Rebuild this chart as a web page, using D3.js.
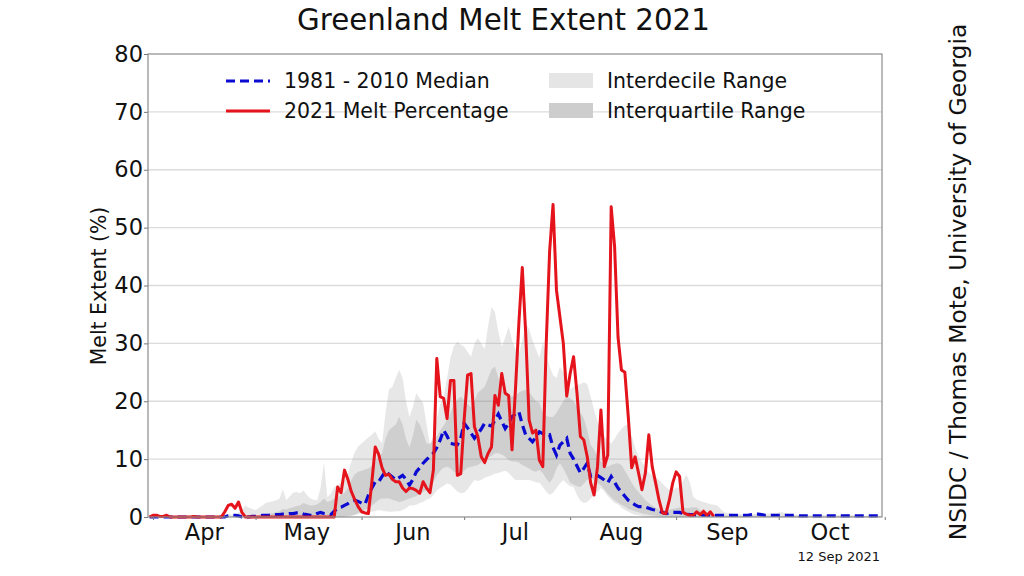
<!DOCTYPE html>
<html>
<head>
<meta charset="utf-8">
<script src="https://cdnjs.cloudflare.com/ajax/libs/d3/7.8.5/d3.min.js"></script>
<style>
  html, body { margin: 0; padding: 0; background: #fff; }
  svg { display: block; }
  text { font-family: "DejaVu Sans", sans-serif; fill: #111; }
</style>
</head>
<body>
<div id="chart"></div>
<script>
// every series is daily and starts on 31 Mar 2021, ten values to a row
var firstDay = Date.UTC(2021, 2, 31);

var melt2021 = [
  0,.3,.3,.1,.1,.3,0,0,0,0,
  0,0,0,.1,0,0,0,0,0,0,
  0,0,.9,2,2.2,1.5,2.6,.8,0,0,
  0,0,0,0,0,0,0,0,0,0,
  0,0,0,0,0,0,0,0,0,0,
  0,0,0,0,0,5.2,4.2,8.1,6.5,4.4,
  3,1.8,.9,.7,.6,6,12.1,10.8,8.5,7.2,
  7.4,6.5,6.1,6.1,5,4.4,5,4.9,4.6,4.1,
  6.1,5,4.2,8.1,27.4,20.8,20.5,17,23.6,23.6,
  7.2,7.5,16.8,24.5,24.8,15.6,13.9,10.4,9.4,11,
  12.1,21,19.3,24.8,21.4,21,11.6,22,33.5,43.1,
  31.7,16.8,14.5,15,9.8,8.7,30,46,54,39.2,
  34.6,30,20.9,24.8,27.7,21.4,13.9,13.3,10.4,5.9,
  3.8,8.7,18.5,8.7,10.7,53.6,46.7,31.1,25.4,25,
  17.3,8.5,10.4,7.6,4.7,7.6,14.2,8.7,5.9,2.9,
  .7,.6,2.9,5.9,7.8,7,.8,.5,.3,.3,
  .9,.4,1,.3,.9,.1
];

var median = [
  0,0,0,0,0,0,0,0,0,0,
  0,0,0,0,0,0,0,0,0,0,
  0,0,0,.2,.3,.3,.2,0,0,0,
  .1,.1,.2,.3,.3,.3,.4,.4,.4,.5,
  .5,.6,.6,.7,.7,.5,.4,.3,.3,.6,
  .8,.6,.5,.4,1,1.5,1.7,2,2.3,2.7,
  2.9,2.7,2.4,2.2,3.8,5,6.1,6.1,7,7.9,
  7.4,6.9,6.4,6.8,7.2,6.5,5.5,6.5,7.8,8.5,
  9.3,9.9,10.5,11,12,13.3,15,14,12.7,12.6,
  12.5,13.6,16.2,15.4,14.5,13.6,14.4,15.2,16.2,15.9,
  15.7,16.7,17.8,16.5,15.3,16.2,17.3,17.8,18.2,16,
  14.2,13.6,13,13.8,14.7,14.4,14,14.2,12,10.7,
  12.4,13,13.6,11,10,8.8,7.6,8.4,9.3,7,
  7.1,7.2,6.8,6.4,5.9,7,6,5,4.3,3.6,
  2.9,2.5,2.1,1.8,1.8,1.7,1.5,1.3,1.2,1,
  .8,.6,.7,.8,.8,.8,.6,.5,.4,.4,
  .3,.3,.3,.3,.3,.3,.3,.3,.3,.3,
  .3,.3,.3,.3,.3,.3,.4,.5,.5,.4,
  .3,.3,.3,.3,.3,.3,.3,.3,.3,.3,
  .2,.2,.2,.2,.2,.2,.2,.2,.2,.2,
  .2,.2,.2,.2,.2,.2,.2,.2,.2,.2,
  .2,.2,.2,.2,.2
];

var decileHigh = [
  0,0,0,0,0,0,0,0,0,0,
  0,0,0,0,0,0,0,0,0,0,
  .2,.4,.6,.5,.4,.5,.8,1.2,2,1.6,
  1.4,1.2,1.6,2,2.4,2.6,2.7,2.9,3.2,4.8,
  2.9,3.6,4.2,4.3,4.1,4.6,3.8,3.2,3,2.9,
  5,9.4,3.4,4,5.2,5.5,5.9,6.3,7.5,9.5,
  11.2,12.2,12.7,13.2,13.8,14.2,14.8,13.5,12.7,18,
  22,22.5,24,25.4,24,20,17.3,19,21.4,20.5,
  19.7,16,12.5,14,17,19.5,20.7,24,27.5,29.5,
  30.3,29.8,29.4,28.5,27.7,30,30.9,30,29,33,
  36.3,35.4,32,29.4,31,32.9,30.5,29,28.3,30.5,
  33.5,32.5,30.5,29,27.5,30.3,28,26,24.5,24,
  26,25,23,22,22.5,22.8,23,23.3,23,20.8,
  18.5,16.5,15,14,13.2,12.7,13.5,14.5,15.2,15.8,
  16,14,12,10.4,9.5,8.5,7.6,7.2,6.8,6.4,
  5.8,5.2,4.7,4.8,5,5.2,6.2,7.3,6,3.5,
  3,2.8,2.6,2.4,2.2,2.1,2,1.4,.8,.7,
  .6,.5,.5,.5,.4,.4,.5,.5,.5,.4,
  .5,.6,.7,.6,.8,.8,.7,.5,.4,.4,
  .3,.3,.3,.3,.3,.3,.3,.3,.3,.3,
  .3,.3,.3,.3,.6,.4,.3,.3,.2,.2,
  .2,.2,.2,.2,.2
];

var decileLow = [
  0,0,0,0,0,0,0,0,0,0,
  0,0,0,0,0,0,0,0,0,0,
  0,0,0,0,0,0,0,0,0,0,
  0,0,0,0,0,0,0,0,0,0,
  0,0,0,0,0,0,0,0,0,0,
  0,0,0,0,0,0,0,.1,.2,.2,
  .3,.5,.6,.7,.8,.9,1,1.2,1.1,1,
  .9,.9,1,1,1.2,1.5,2,2,2.1,2.4,
  2.6,3,3.2,3.8,4.6,5,5.4,5.8,5.6,5,
  4.4,4.1,4.2,4.8,5.6,6.4,6.2,6.4,6.8,7,
  7.2,7.5,7.6,7.8,8,7.6,7,6.4,6.4,6.4,
  6.4,6.4,6.2,6,5.9,5.2,4.4,3.8,4.2,5,
  5.8,6.4,5.8,5.3,5.2,3.8,2.8,2.4,2.6,3.2,
  3.8,4.3,5,4.4,3.6,3,2.4,2.2,1.6,1.2,
  .9,.6,.4,.3,.2,.1,0,0,0,0,
  0,0,0,0,0,0,0,0,0,0,
  0,0,0,0,0,0,0,0,0,0,
  0,0,0,0,0,0,0,0,0,0,
  0,0,0,0,0,0,0,0,0,0,
  0,0,0,0,0,0,0,0,0,0,
  0,0,0,0,0,0,0,0,0,0,
  0,0,0,0,0
];

var quartileHigh = [
  0,0,0,0,0,0,0,0,0,0,
  0,0,0,0,0,0,0,0,0,0,
  0,0,0,0,0,0,0,0,0,0,
  0,0,0,.3,.5,.6,.7,.8,1,1.4,
  1.3,1.5,1.7,1.9,2,2.4,2.2,2,2,2.2,
  2.6,3.2,2.6,2.8,3.2,3.4,3.8,4.2,5,6.4,
  7.4,7.8,8,8.2,8.4,8.8,9.4,10.5,11,13.5,
  15,15.5,16,17.3,16,13.5,12,14,16.8,16,
  14.5,12.7,12.7,13.2,13.9,15,15.8,16.8,18,19.5,
  20.3,20.8,20.2,19.5,19,20,21.5,22,22.5,24,
  25.5,26,24,22,21.4,21,20.8,21,21.5,21.8,
  22,21.5,20.8,20,19.7,18,17.5,17.3,17.3,18,
  19,20,20.8,20.5,20,19,18,17,15,12.5,
  11.6,10.5,9.6,9,8.7,9,9.2,9.3,9,8,
  7,5.9,5,4.3,3.6,2.9,2.4,2,1.6,1.3,
  1.2,1.2,1.3,1.4,1.5,1.7,1.6,1.5,1.6,1.7,
  1.7,1.2,.8,.6,.5,.5,.4,.3,.3,.3,
  .2,.2,.2,.2,.2,.2,.2,.2,.2,.2,
  .2,.2,.2,.2,.2,.2,.2,.2,.2,.2,
  .1,.1,.1,.1,.1,.1,.1,.1,.1,.1,
  .1,.1,.1,.1,.1,.1,.1,.1,.1,.1,
  .1,.1,.1,.1,.1
];

var quartileLow = [
  0,0,0,0,0,0,0,0,0,0,
  0,0,0,0,0,0,0,0,0,0,
  0,0,0,0,0,0,0,0,0,0,
  0,0,0,0,0,0,0,0,0,0,
  0,0,0,0,0,0,0,0,0,0,
  0,0,0,0,0,0,0,0,.1,.2,
  .4,.7,1,1.3,1.6,2,2.4,3,3.2,3.2,
  3.2,3,2.8,2.6,2.7,3,3.2,3.4,3.6,4,
  4.3,4.7,4.8,6,7.2,8,8.5,8.7,8.4,7.8,
  7.5,7.6,8,8.5,8.7,8.8,9,9.4,9.8,10.2,
  10.6,11,11,10.8,10.4,9.8,9.6,9.6,9.4,9,
  8.7,8.4,8,7.8,8.1,7.6,6.6,5.9,6.8,8.4,
  9.3,8.4,7.2,5.9,5.6,5.3,5.2,5.8,6.4,7,
  6.4,5.8,5.5,4.8,4,3.4,2.9,2.5,2.1,1.8,
  1.4,1.2,1,.8,.6,.5,.4,.3,.2,.1,
  0,0,0,0,0,0,0,0,0,0,
  0,0,0,0,0,0,0,0,0,0,
  0,0,0,0,0,0,0,0,0,0,
  0,0,0,0,0,0,0,0,0,0,
  0,0,0,0,0,0,0,0,0,0,
  0,0,0,0,0,0,0,0,0,0,
  0,0,0,0,0
];

var monthTicks = [[3,1],[4,1],[5,1],[6,1],[7,1],[8,1],[9,1],[10,1]];
var monthLabels = ["Apr", "May", "Jun", "Jul", "Aug", "Sep", "Oct"];
var labelDays = [[3,16],[4,16],[5,16],[6,16],[7,16],[8,16],[9,16]];
var yTicks = [0, 10, 20, 30, 40, 50, 60, 70, 80];

var WIDTH = 1024, HEIGHT = 576;
var plot = {left: 148, right: 882, top: 54, bottom: 517};
var DAY = 86400000;

var svg = d3.select("#chart").append("svg")
    .attr("width", WIDTH)
    .attr("height", HEIGHT);

var x = d3.scaleUtc()
    .domain([new Date(firstDay - 0.46 * DAY), new Date(firstDay + 214.2 * DAY)])
    .range([plot.left, plot.right]);

var y = d3.scaleLinear().domain([0, 80]).range([plot.bottom, plot.top]);

function dayOf(i) { return new Date(firstDay + i * DAY); }
function monthDate(m) { return new Date(Date.UTC(2021, m[0], m[1])); }

// horizontal grid
svg.append("g").selectAll("line")
    .data(yTicks.slice(1, -1))
    .enter().append("line")
    .attr("x1", plot.left).attr("x2", plot.right)
    .attr("y1", function(d){ return y(d); })
    .attr("y2", function(d){ return y(d); })
    .style("stroke", "#dcdcdc")
    .style("stroke-width", 1.3);

// ranges
function band(low, high, fill, opacity) {
    var area = d3.area()
        .x(function(d){ return x(dayOf(d)); })
        .y0(function(d){ return y(low[d]); })
        .y1(function(d){ return y(high[d]); });
    svg.append("path")
        .datum(d3.range(high.length))
        .attr("d", area)
        .style("fill", fill)
        .style("fill-opacity", opacity);
}
band(decileLow, decileHigh, "#9a9a9a", 0.24);
band(quartileLow, quartileHigh, "#808080", 0.23);

var line = d3.line()
    .x(function(d, i){ return x(dayOf(i)); })
    .y(function(d){ return y(d); });

svg.append("path")
    .datum(median)
    .attr("d", line)
    .style("fill", "none")
    .style("stroke", "#0a0ad2")
    .style("stroke-width", 3.2)
    .style("stroke-dasharray", "9,5");

svg.append("path")
    .datum(melt2021)
    .attr("d", line)
    .style("fill", "none")
    .style("stroke", "#e5131b")
    .style("stroke-width", 3)
    .style("stroke-linejoin", "round");

// axes
var xAxis = d3.axisBottom(x)
    .tickValues(monthTicks.map(monthDate))
    .tickFormat("")
    .tickSize(3);

var gx = svg.append("g")
    .attr("transform", "translate(0," + plot.bottom + ")")
    .call(xAxis);
gx.select(".domain").remove();
gx.selectAll("line").style("stroke", "#777");

var yAxis = d3.axisLeft(y)
    .tickValues(yTicks)
    .tickSize(4)
    .tickPadding(1);

var gy = svg.append("g")
    .attr("transform", "translate(" + plot.left + ",0)")
    .call(yAxis);
gy.select(".domain").remove();
gy.selectAll("line").style("stroke", "#777");
gy.selectAll("text")
    .style("font-size", "22.5px")
    .style("font-family", '"DejaVu Sans", sans-serif');

svg.append("rect")
    .attr("x", plot.left).attr("y", plot.top)
    .attr("width", plot.right - plot.left)
    .attr("height", plot.bottom - plot.top)
    .style("fill", "none")
    .style("stroke", "#8c8c8c")
    .style("stroke-width", 1.2);

svg.append("g").selectAll("text")
    .data(monthLabels)
    .enter().append("text")
    .attr("x", function(d, i){ return x(monthDate(labelDays[i])); })
    .attr("y", 540)
    .attr("text-anchor", "middle")
    .style("font-size", "22.5px")
    .text(function(d){ return d; });

// titles
svg.append("text")
    .attr("x", 503.5).attr("y", 30)
    .attr("text-anchor", "middle")
    .style("font-size", "29.3px")
    .text("Greenland Melt Extent 2021");

svg.append("text")
    .attr("transform", "translate(106,286) rotate(-90)")
    .attr("text-anchor", "middle")
    .style("font-size", "20.4px")
    .text("Melt Extent (%)");

svg.append("text")
    .attr("transform", "translate(966,282) rotate(-90)")
    .attr("text-anchor", "middle")
    .style("font-size", "23.4px")
    .text("NSIDC / Thomas Mote, University of Georgia");

svg.append("text")
    .attr("x", 880).attr("y", 561)
    .attr("text-anchor", "end")
    .style("font-size", "13px")
    .text("12 Sep 2021");

// legend
var legendLines = [
    {label: "1981 - 2010 Median", y: 81, color: "#0a0ad2", dash: "9,5"},
    {label: "2021 Melt Percentage", y: 111, color: "#e5131b", dash: null}
];
var legendPatches = [
    {label: "Interdecile Range", y: 81, color: "#e5e5e5"},
    {label: "Interquartile Range", y: 111, color: "#cdcdcd"}
];

var ll = svg.append("g").selectAll("g").data(legendLines).enter().append("g");
ll.append("line")
    .attr("x1", 226).attr("x2", 270)
    .attr("y1", function(d){ return d.y; })
    .attr("y2", function(d){ return d.y; })
    .style("stroke", function(d){ return d.color; })
    .style("stroke-width", 2.8)
    .style("stroke-dasharray", function(d){ return d.dash; });
ll.append("text")
    .attr("x", 284)
    .attr("y", function(d){ return d.y + 7; })
    .style("font-size", "20.5px")
    .text(function(d){ return d.label; });

var lp = svg.append("g").selectAll("g").data(legendPatches).enter().append("g");
lp.append("rect")
    .attr("x", 549)
    .attr("y", function(d){ return d.y - 8; })
    .attr("width", 44)
    .attr("height", 15)
    .style("fill", function(d){ return d.color; });
lp.append("text")
    .attr("x", 607)
    .attr("y", function(d){ return d.y + 7; })
    .style("font-size", "20.5px")
    .text(function(d){ return d.label; });
</script>
</body>
</html>
